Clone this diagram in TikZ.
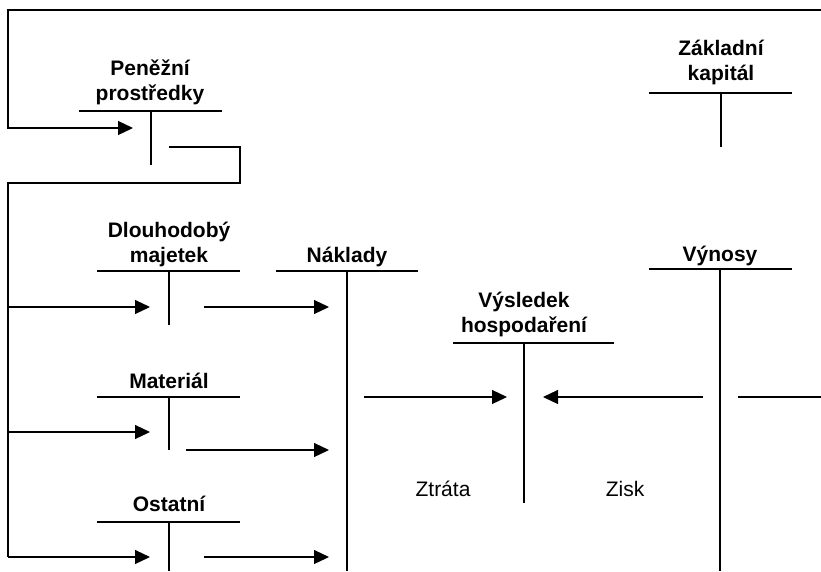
\documentclass[tikz,border=0pt]{standalone}
\usepackage{fontspec}
\setmainfont{Liberation Sans}
\usetikzlibrary{arrows.meta}
\begin{document}
\begin{tikzpicture}[x=1pt,y=-1pt,line width=1.2pt,
  title/.style={font=\fontsize{21}{25}\selectfont\bfseries,align=center,anchor=south,inner sep=0pt,text depth=0pt},
  plain/.style={font=\fontsize{21}{25}\selectfont,anchor=south,inner sep=0pt,text depth=0pt},
  flow/.style={-{Triangle[length=15pt,width=14pt]}}]
\useasboundingbox (0,0) rectangle (821,571);
% ---- titles
\node[title] (pp) at (150,101) {Peněžní\\prostředky};
\node[title] (zk) at (721,81) {Základní\\kapitál};
\node[title] (dm) at (169,263) {Dlouhodobý\\majetek};
\node[title] (nk) at (347,263) {Náklady};
\node[title] (vh) at (524,333) {Výsledek\\hospodaření};
\node[title] (vy) at (720,262) {Výnosy};
\node[title] (ma) at (169,389) {Materiál};
\node[title] (os) at (169,512) {Ostatní};
\node[plain] (zt) at (443,497) {Ztráta};
\node[plain] (zi) at (625,497) {Zisk};
% ---- T-accounts
\coordinate (ppL) at (79,111); \coordinate (ppR) at (222,111);
\coordinate (ppT) at (151,111); \coordinate (ppB) at (151,165);
\draw (ppL) -- (ppR) (ppT) -- (ppB);
\coordinate (zkL) at (649,93); \coordinate (zkR) at (792,93);
\coordinate (zkT) at (721,93); \coordinate (zkB) at (721,147);
\draw (zkL) -- (zkR) (zkT) -- (zkB);
\coordinate (dmL) at (97,271); \coordinate (dmR) at (240,271);
\coordinate (dmT) at (169,271); \coordinate (dmB) at (169,325);
\draw (dmL) -- (dmR) (dmT) -- (dmB);
\coordinate (nkL) at (276,271); \coordinate (nkR) at (418,271);
\coordinate (nkT) at (347,271); \coordinate (nkB) at (347,571);
\draw (nkL) -- (nkR) (nkT) -- (nkB);
\coordinate (vhL) at (453,343); \coordinate (vhR) at (614,343);
\coordinate (vhT) at (524,343); \coordinate (vhB) at (524,503);
\draw (vhL) -- (vhR) (vhT) -- (vhB);
\coordinate (vyL) at (649,269); \coordinate (vyR) at (792,269);
\coordinate (vyT) at (720,269); \coordinate (vyB) at (720,571);
\draw (vyL) -- (vyR) (vyT) -- (vyB);
\coordinate (maL) at (97,397); \coordinate (maR) at (240,397);
\coordinate (maT) at (169,397); \coordinate (maB) at (169,450);
\draw (maL) -- (maR) (maT) -- (maB);
\coordinate (osL) at (97,522); \coordinate (osR) at (240,522);
\coordinate (osT) at (169,522); \coordinate (osB) at (169,571);
\draw (osL) -- (osR) (osT) -- (osB);
% ---- flows
\coordinate (topR) at (821,10); \coordinate (topL) at (8,10);
\coordinate (ppIn) at (133,128); \coordinate (ppOut) at (169,147);
\draw[flow] (topR) -- (topL) -- (8,128) -- (ppIn);
\coordinate (split) at (8,183);
\draw (ppOut) -- (240,147) -- (240,183) -- (split) -- (8,557);
\coordinate (dmIn) at (150,307); \coordinate (maIn) at (150,432); \coordinate (osIn) at (150,557);
\draw[flow] (8,307) -- (dmIn);
\draw[flow] (8,432) -- (maIn);
\draw[flow] (8,557) -- (osIn);
\coordinate (dmOut) at (204,307); \coordinate (nk1) at (329,307);
\coordinate (maOut) at (186,450); \coordinate (nk2) at (329,450);
\coordinate (osOut) at (204,557); \coordinate (nk3) at (329,557);
\draw[flow] (dmOut) -- (nk1);
\draw[flow] (maOut) -- (nk2);
\draw[flow] (osOut) -- (nk3);
\coordinate (nkOut) at (364,397); \coordinate (vhInL) at (507,397);
\coordinate (vyOut) at (703,397); \coordinate (vhInR) at (543,397);
\draw[flow] (nkOut) -- (vhInL);
\draw[flow] (vyOut) -- (vhInR);
\coordinate (vyIn) at (738,397); \coordinate (edgeR) at (821,397);
\draw (vyIn) -- (edgeR);
\end{tikzpicture}
\end{document}
